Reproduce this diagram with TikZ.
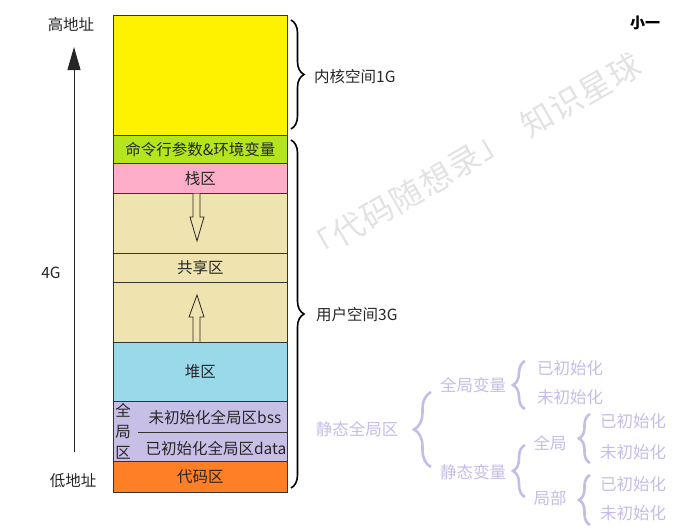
\documentclass[tikz,border=0pt]{standalone}
\usepackage{fontspec}
\newfontfamily\cjk{Noto Sans CJK SC}
\usetikzlibrary{arrows.meta,decorations.pathreplacing}
\definecolor{cYel}{HTML}{FFF200}
\definecolor{cGrn}{HTML}{B5E61D}
\definecolor{cPnk}{HTML}{FFAEC9}
\definecolor{cBei}{HTML}{EFE4B0}
\definecolor{cBlu}{HTML}{99D9EA}
\definecolor{cLav}{HTML}{C8BFE7}
\definecolor{cOrg}{HTML}{FF7F27}
\definecolor{cTree}{HTML}{C6BCE6}
\definecolor{cWm}{HTML}{E2E2E2}
\begin{document}
\begin{tikzpicture}[x=1pt,y=1pt,
  layer/.style={draw=black!80,line width=0.9pt,anchor=north west,minimum width=174pt,inner sep=0pt,
    font=\cjk\fontsize{15.5}{18}\selectfont,text=black!85},
  lbl/.style={font=\cjk\fontsize{15.5}{18}\selectfont,text=black!85,inner sep=0pt},
  tr/.style={font=\cjk\fontsize{16.5}{20}\selectfont,text=cTree,inner sep=0pt},
  wmk/.style={font=\cjk\fontsize{32}{36}\selectfont,text=cWm,rotate=30,inner sep=0pt},
  bbrace/.style={decorate,decoration={brace,amplitude=13pt},line width=1.6pt},
  tbrace/.style={decorate,decoration={brace,amplitude=#1},line width=2.6pt,draw=cTree},
  holarrow/.style={draw=black!85,line width=0.8pt,fill=cBei}
]
\useasboundingbox (0,0) rectangle (673,-530);

% watermark, one character at a time along a 30 degree line
\foreach \c [count=\i] in {「,代,码,随,想,录,」,知,识,星,球} {
  \pgfmathsetmacro\t{(\i-1+(\i>7)*0.5-5.25)*33.5}
  \node[wmk] (wm\i) at ({472+\t*cos(30)},{-158+\t*sin(30)}) {\c};
}

% layers
\node[layer,fill=cYel,minimum height=120pt] (kern) at (113,-15) {};
\node[layer,fill=cGrn,minimum height=28pt] (env) at (113,-135) {命令行参数\&环境变量};
\node[layer,fill=cPnk,minimum height=30pt] (stack) at (113,-163) {栈区};
\node[layer,fill=cBei,minimum height=60pt] (gap1) at (113,-193) {};
\node[layer,fill=cBei,minimum height=29pt] (share) at (113,-253) {共享区};
\node[layer,fill=cBei,minimum height=60pt] (gap2) at (113,-282) {};
\node[layer,fill=cBlu,minimum height=59pt] (heap) at (113,-342) {堆区};
\node[layer,fill=cLav,minimum height=60pt] (glob) at (113,-401) {};
\node[layer,fill=cOrg,minimum height=31pt] (code) at (113,-461) {代码区};
\coordinate (divL) at (138,-432);
\coordinate (divR) at (287,-432);
\draw[draw=black!80,line width=0.9pt] (divL) -- (divR);
\node[lbl,align=center,font=\cjk\fontsize{15.5}{21}\selectfont] (gq) at (123,-431) {全\\局\\区};
\node[lbl] (bss) at (215,-418) {未初始化全局区bss};
\node[lbl] (data) at (216,-449) {已初始化全局区data};

% growth arrows
\draw[holarrow] (193,-193.5) -- (193,-217) -- (190,-217) -- (197,-241) -- (204,-217) -- (200,-217) -- (200,-193.5);
\draw[holarrow] (193,-341.5) -- (193,-317) -- (189,-317) -- (197,-295) -- (204,-317) -- (200,-317) -- (200,-341.5);

% address axis
\coordinate (axB) at (74,-452);
\coordinate (axT) at (74,-47);
\draw[line width=1pt,black!85,-{Triangle[length=23pt,width=13pt]}] (axB) -- (axT);
\node[lbl] (hi) at (71,-25) {高地址};
\node[lbl] (lo) at (73,-481) {低地址};
\node[lbl] (g4) at (51,-273) {4G};

% braces
\draw[bbrace] (291,-20) -- (291,-129);
\node[lbl,anchor=west] (kl) at (314,-77) {内核空间1G};
\draw[bbrace] (291,-140) -- (291,-488);
\node[lbl,anchor=west] (ul) at (316,-315) {用户空间3G};

% author
\node[font=\cjk\bfseries\fontsize{15}{18}\selectfont,text=black] (au) at (645,-23) {小一};

% tree
\node[tr] (sg) at (357,-429) {静态全局区};
\draw[tbrace=17pt] (431,-467) -- (431,-392);
\node[tr] (gv) at (473,-385) {全局变量};
\node[tr] (sv) at (473,-472) {静态变量};
\draw[tbrace=12pt] (525,-409) -- (525,-361);
\node[tr] (gv1) at (570,-368) {已初始化};
\node[tr] (gv2) at (570,-397) {未初始化};
\draw[tbrace=12pt] (525,-497) -- (525,-445);
\node[tr] (sq) at (550,-443) {全局};
\node[tr] (sj) at (550,-498) {局部};
\draw[tbrace=11pt] (590,-463) -- (590,-414);
\node[tr] (sq1) at (633,-421) {已初始化};
\node[tr] (sq2) at (633,-452) {未初始化};
\draw[tbrace=11pt] (590,-525) -- (590,-475);
\node[tr] (sj1) at (633,-484) {已初始化};
\node[tr] (sj2) at (633,-513) {未初始化};
\end{tikzpicture}
\end{document}
